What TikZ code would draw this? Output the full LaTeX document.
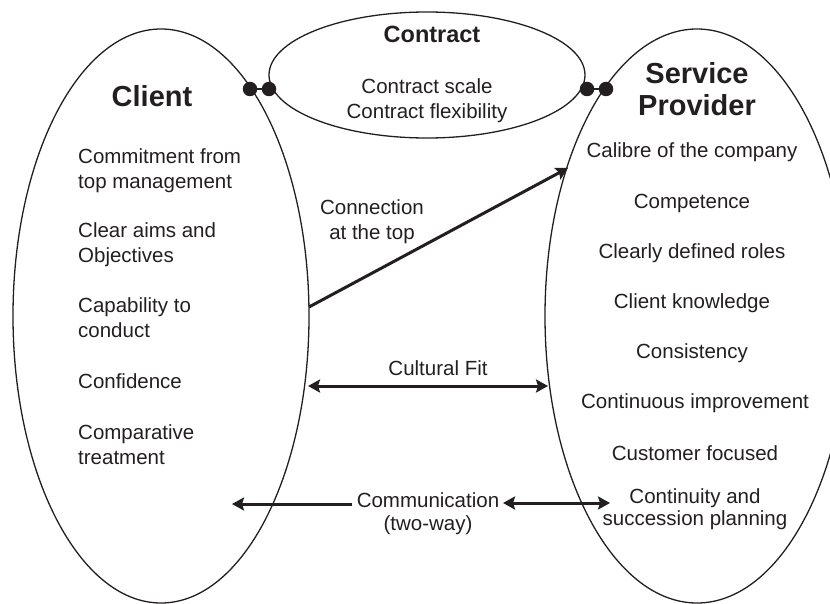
\documentclass[tikz,border=0pt]{standalone}
\usepackage{fontspec}
\setmainfont{Liberation Sans}
\usetikzlibrary{arrows.meta}

\definecolor{ink}{RGB}{35,31,32}

\tikzset{
  item/.style={font=\fontsize{20.5}{25}\selectfont, align=center, inner sep=0pt, text=ink},
  leftitem/.style={item, align=left, anchor=west},
  title/.style={font=\fontsize{29}{32}\selectfont\bfseries, align=center, inner sep=0pt, text=ink},
  oval/.style={draw=ink, line width=1.3pt},
  link/.style={draw=ink, line width=3pt, -{Stealth[length=12pt,width=13pt,inset=2pt]}},
  twolink/.style={draw=ink, line width=3pt, {Stealth[length=12pt,width=13pt,inset=2pt]}-{Stealth[length=12pt,width=13pt,inset=2pt]}},
  joint/.style={circle, fill=ink, inner sep=0pt, minimum size=14.5pt},
}

\begin{document}
\begin{tikzpicture}[x=1pt,y=-1pt]
                                    \useasboundingbox (0,0) rectangle (830,604);
                                    \def\lx{78};\def\rx{692};

% ellipses
                                    \draw[oval] (161,316) ellipse [x radius=148pt, y radius=287pt];
                                    \draw[oval] (697,316) ellipse [x radius=152pt, y radius=287pt];
                                    \draw[oval,fill=white] (427,75) ellipse [x radius=158pt, y radius=63pt];

% joints
                                    \node[joint] (cl a) at (250,89) {};
                                    \node[joint] (cl b) at (269,89) {};
                                    \node[joint] (sp a) at (587,89) {};
                                    \node[joint] (sp b) at (606,89) {};
                                    \draw[ink,line width=1.5pt] (cl a) -- (cl b);
                                    \draw[ink,line width=1.5pt] (sp a) -- (sp b);

% contract
                                    \node[title,font=\fontsize{23.5}{28}\selectfont\bfseries] (contract) at (432,34) {Contract};
                                    \node[item] (terms) at (427,101) {Contract scale\\Contract flexibility};

% client
                                    \node[title] (client) at (152,96) {Client};
                                    \node[leftitem] (c1) at (\lx,171) {Commitment from\\top management};
                                    \node[leftitem] (c2) at (\lx,245) {Clear aims and\\Objectives};
                                    \node[leftitem] (c3) at (\lx,318) {Capability to\\conduct};
                                    \node[leftitem] (c4) at (\lx,381) {Confidence};
                                    \node[leftitem] (c5) at (\lx,445) {Comparative\\treatment};

% service provider
                                    \node[title] (provider) at (697,89) {Service\\Provider};
                                    \node[item] (s1) at (\rx,152) {Calibre of the company};
                                    \node[item] (s2) at (\rx,203) {Competence};
                                    \node[item] (s3) at (\rx,253) {Clearly defined roles};
                                    \node[item] (s4) at (\rx,303) {Client knowledge};
                                    \node[item] (s5) at (\rx,353) {Consistency};
                                    \node[item] (s6) at (\rx+3,403) {Continuous improvement};
                                    \node[item] (s7) at (\rx+3,453) {Customer focused};
                                    \node[item,font=\fontsize{20.5}{22}\selectfont] (s8) at (\rx+3,509) {Continuity and\\succession planning};

% links
                                    \node[item] (top) at (372,222) {Connection\\at the top};
                                    \node[item] (fit) at (438,368) {Cultural Fit};
                                    \node[item,font=\fontsize{20.5}{23}\selectfont] (comm) at (428,514) {Communication\\(two-way)};
                                    \coordinate (top from) at (309,307);
                                    \coordinate (top to) at (568,168);
                                    \coordinate (fit l) at (308,386);
                                    \coordinate (fit r) at (548,386);
                                    \coordinate (comm l) at (352,504);
                                    \coordinate (comm l end) at (232,504);
                                    \coordinate (comm r) at (503,503);
                                    \coordinate (comm r end) at (610,503);
                                    \draw[link] (top from) -- (top to);
                                    \draw[twolink] (fit l) -- (fit r);
                                    \draw[link] (comm l) -- (comm l end);
                                    \draw[twolink] (comm r) -- (comm r end);

                                \end{tikzpicture}
\end{document}
